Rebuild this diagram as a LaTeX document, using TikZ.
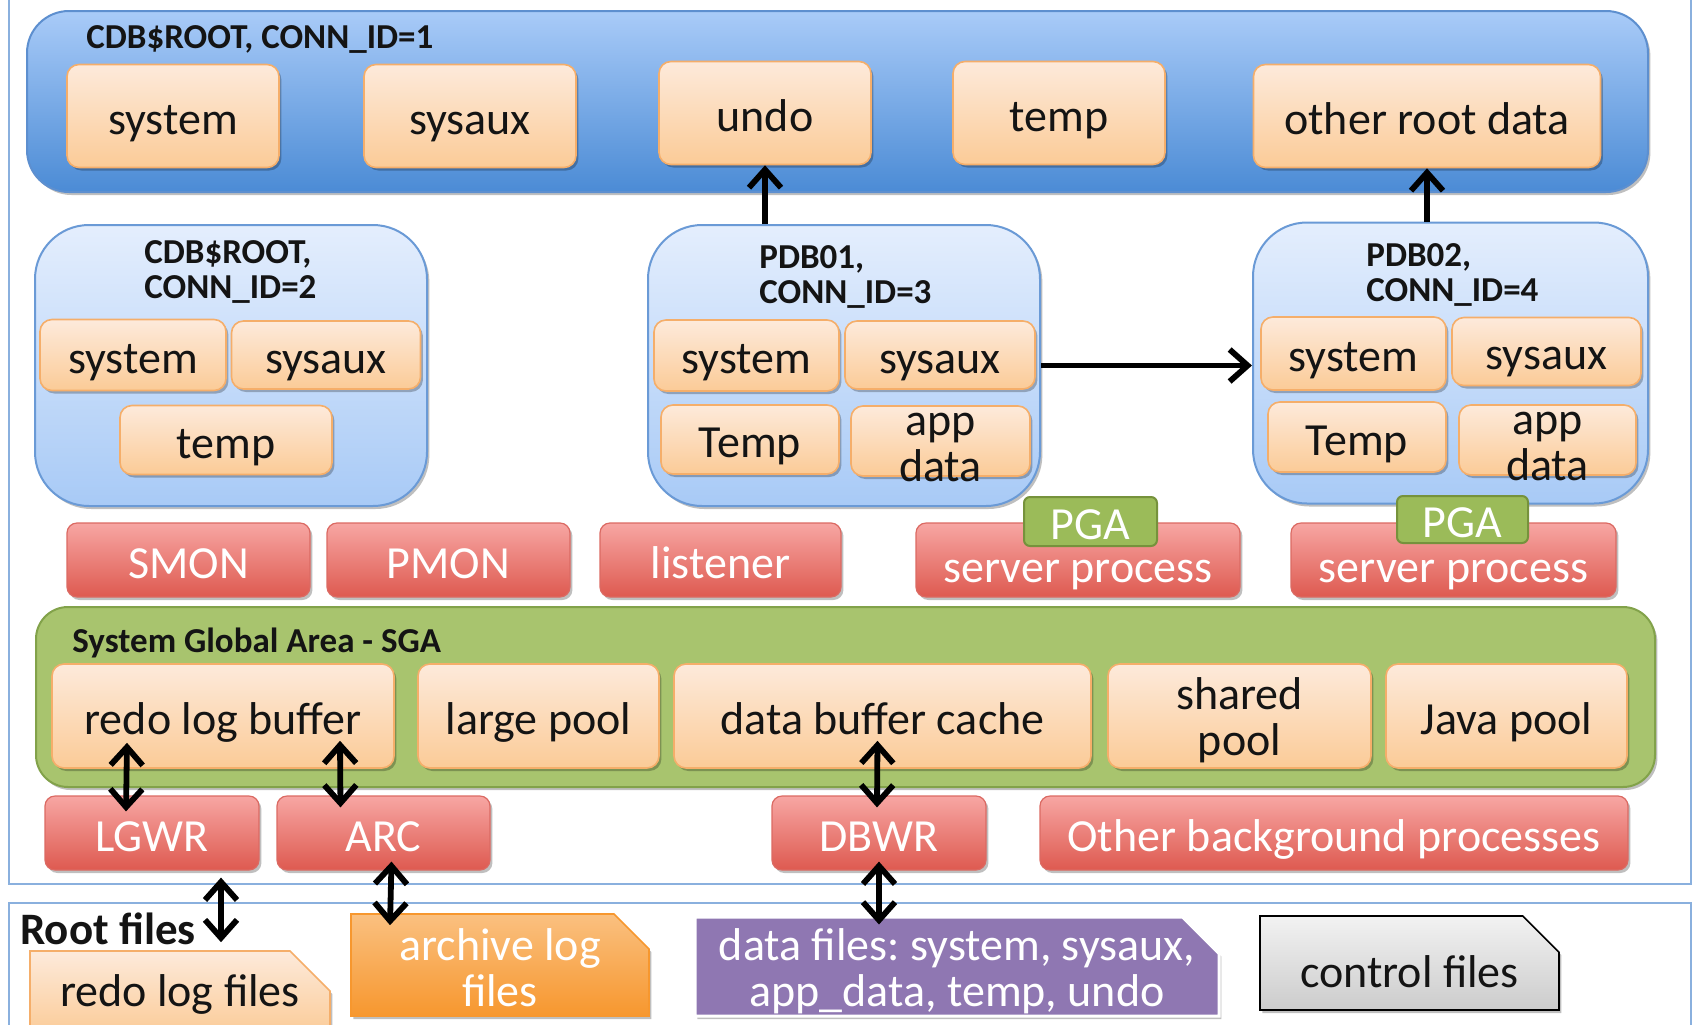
\documentclass[tikz,border=0pt]{standalone}
\usepackage{fontspec}
\setmainfont{Carlito}
\usetikzlibrary{arrows.meta,shapes.misc,shadows,calc}
\definecolor{txtc}{HTML}{141414}
\definecolor{orTop}{HTML}{FDEADB}
\definecolor{orBot}{HTML}{FBCB97}
\definecolor{orLine}{HTML}{F5AE6A}
\definecolor{rdTop}{HTML}{F7A6A3}
\definecolor{rdBot}{HTML}{DE5A50}
\definecolor{rdEdge}{HTML}{DB6A63}
\definecolor{rootTop}{HTML}{A9CBF8}
\definecolor{rootBot}{HTML}{4B8BD5}
\definecolor{rootLine}{HTML}{5D8FCF}
\definecolor{pdbTop}{HTML}{E4EEFD}
\definecolor{pdbBot}{HTML}{A8CAF6}
\definecolor{pdbLine}{HTML}{6A9AD6}
\definecolor{sgaFill}{HTML}{A8C46E}
\definecolor{sgaLine}{HTML}{82A24A}
\definecolor{pgaFill}{HTML}{9BBB59}
\definecolor{pgaLine}{HTML}{76923C}
\definecolor{panelLine}{HTML}{8AB0DE}
\definecolor{arcTop}{HTML}{FAC080}
\definecolor{arcBot}{HTML}{F7972E}
\definecolor{purp}{HTML}{8F77B2}
\definecolor{grTop}{HTML}{F2F2F2}
\definecolor{grBot}{HTML}{CCCCCC}
\newcommand\setfs[1]{\fontsize{#1}{#1}\selectfont}
\newcommand\lowerby[2]{\raisebox{-#1}[\height][\depth]{#2}}
\newcommand\twolines[4]{\raisebox{0pt}[#1][#2]{\begin{tabular}[t]{@{}c@{}}#3\\#4\end{tabular}}}
\frenchspacing
\begin{document}
\begin{tikzpicture}[x=0.5pt,y=-0.5pt,
  sh/.style={drop shadow={shadow xshift=1.2pt,shadow yshift=-1.5pt,opacity=0.25,fill=black}},
  wh/.style 2 args={minimum width=#1*0.5pt,minimum height=#2*0.5pt},
  oneline/.style={text height=18pt,text depth=0pt},
  ob/.style={rectangle,rounded corners=6pt,draw=orLine,line width=0.8pt,top color=orTop,bottom color=orBot,inner sep=0pt,font=\setfs{23},text=txtc,oneline,sh},
  rb/.style={rectangle,rounded corners=5pt,draw=rdEdge,line width=0.6pt,top color=rdTop,bottom color=rdBot,inner sep=0pt,font=\setfs{23},text=white,oneline,sh},
  cont/.style={rectangle,rounded corners=27pt,draw=pdbLine,line width=1pt,top color=pdbTop,bottom color=pdbBot,inner sep=0pt,sh},
  pga/.style={rectangle,rounded corners=3pt,draw=pgaLine,line width=1pt,fill=pgaFill,inner sep=0pt,font=\setfs{23},text=white,text height=17.5pt,text depth=0pt},
  ttl/.style={font=\bfseries\setfs{17.5},text=txtc,inner sep=0pt,align=left},
  txt/.style={font=\setfs{23},inner sep=0pt,align=center},
  file/.style={chamfered rectangle,chamfered rectangle corners=north east,chamfered rectangle sep=10pt,inner sep=0pt,font=\setfs{23},sh},
  panel/.style={draw=panelLine,line width=1pt},
  arr/.style={line width=2.9pt,-{Straight Barb[length=9pt,width=16pt]}},
  dbl/.style={line width=2.9pt,{Straight Barb[length=9pt,width=16pt]}-{Straight Barb[length=9pt,width=16pt]}}
]
\useasboundingbox (0,0) rectangle (1694,1024);
% panels
\draw[panel] (9,-20) rectangle (1691,884);
\draw[panel] (9,903) rectangle (1691,1044);
% root container
\node[rectangle,rounded corners=21pt,draw=rootLine,line width=1pt,top color=rootTop,bottom color=rootBot,wh={1621}{181},sh] (root) at (837.5,101.5) {};
\node[ttl,anchor=west] (rootttl) at (86,39) {CDB\$ROOT, CONN\_ID=1};
\node[ob,wh={212}{103}] (rsys) at (173,116) {system};
\node[ob,wh={212}{103}] (rsysaux) at (470,116) {sysaux};
\node[ob,wh={212}{103}] (undo) at (765,113) {undo};
\node[ob,wh={212}{103}] (rtemp) at (1059,113) {temp};
\node[ob,wh={347}{103}] (other) at (1427,116) {other root data};
% containers
\node[cont,wh={392}{281}] (cdb2) at (231,365.5) {};
\node[cont,wh={392}{281}] (pdb1) at (844,365.5) {};
\node[cont,wh={395}{281}] (pdb2) at (1450.5,363) {};
\node[ttl,anchor=west] (cdb2t) at (144,272) {CDB\$ROOT,\\CONN\_ID=2};
\node[ttl,anchor=west] (pdb1t) at (759,276.5) {PDB01,\\CONN\_ID=3};
\node[ttl,anchor=west] (pdb2t) at (1366,275) {PDB02,\\CONN\_ID=4};
\node[ob,wh={186}{71}] (c2sys) at (133,355) {system};
\node[ob,wh={189}{68}] (c2aux) at (326,355) {sysaux};
\node[ob,wh={212}{69}] (c2tmp) at (226,440) {temp};
\node[ob,wh={185}{71}] (p1sys) at (746.5,355.5) {system};
\node[ob,wh={190}{68}] (p1aux) at (940,355) {sysaux};
\node[ob,wh={178}{69}] (p1tmp) at (750,439.5) {Temp};
\node[ob,wh={179}{70}] (p1app) at (940.5,441) {};
\node[txt,text=txtc] (p1appt) at (940.5,447) {app\\data};
\node[ob,wh={185}{73}] (p2sys) at (1353.5,353.5) {system};
\node[ob,wh={189}{68}] (p2aux) at (1546.5,351.5) {sysaux};
\node[ob,wh={178}{70}] (p2tmp) at (1357,437) {Temp};
\node[ob,wh={177}{70}] (p2app) at (1547.5,440) {};
\node[txt,text=txtc] (p2appt) at (1547.5,446) {app\\data};
% arrows between containers
\draw[arr] (pdb1.north -| undo.south) -- (undo.south);
\draw[arr] (pdb2.north -| other.south) -- (other.south);
\draw[arr] (pdb1.east) -- (pdb1.east -| pdb2.west);
% processes
\node[rb,wh={243}{74}] (smon) at (188.5,560) {SMON};
\node[rb,wh={243}{74}] (pmon) at (448.5,560) {PMON};
\node[rb,wh={241}{74}] (lsnr) at (720.5,560) {listener};
\node[rb,wh={324}{74}] (srv1) at (1078,560) {};
\node[txt,text=white] (srv1t) at (1078,575) {server process};
\node[rb,wh={325}{74}] (srv2) at (1453.5,560) {};
\node[txt,text=white] (srv2t) at (1453.5,575) {server process};
\node[pga,wh={133}{49}] (pga1) at (1090.5,521.5) {PGA};
\node[pga,wh={131}{47}] (pga2) at (1462.5,519.5) {PGA};
% SGA
\node[rectangle,rounded corners=16pt,draw=sgaLine,line width=1pt,fill=sgaFill,wh={1619}{180},sh] (sga) at (845.5,697) {};
\node[ttl,anchor=west] (sgat) at (72,643) {System Global Area - SGA};
\node[ob,wh={342}{104}] (rlb) at (223,716) {redo log buffer};
\node[ob,wh={241}{104}] (lp) at (538.5,716) {large pool};
\node[ob,wh={417}{104}] (dbc) at (882.5,716) {data buffer cache};
\node[ob,wh={263}{104}] (sp) at (1239.5,716) {};
\node[txt,text=txtc] (spt) at (1239.5,720) {shared\\pool};
\node[ob,wh={241}{104}] (jp) at (1506.5,716) {Java pool};
% background processes
\node[rb,wh={214}{74}] (lgwr) at (152,833) {LGWR};
\node[rb,wh={213}{74}] (arc) at (383.5,833) {ARC};
\node[rb,wh={214}{74}] (dbwr) at (879,833) {DBWR};
\node[rb,wh={588}{74}] (obp) at (1334,833) {Other background processes};
% files
\node[ttl,font=\bfseries\setfs{22.5},anchor=west] (rootf) at (20,929) {Root files};
\node[file,draw=orLine,line width=0.8pt,top color=orTop,bottom color=orBot,wh={300}{84},text=txtc] (rlf) at (180,993) {\lowerby{0.5pt}{redo log files}};
\node[file,draw=arcBot,line width=0.8pt,top color=arcTop,bottom color=arcBot,wh={298}{102},text=white] (arch) at (500,965) {\twolines{5pt}{10pt}{archive log}{files}};
\node[file,draw=white,line width=1.5pt,fill=purp,wh={524}{99},text=white] (df) at (957,966.5) {\twolines{5pt}{11.5pt}{data files: system, sysaux,}{app\_data, temp, undo}};
\node[file,draw=black,line width=0.8pt,top color=grTop,bottom color=grBot,wh={299}{94},text=txtc] (cf) at (1409.5,963) {\lowerby{4.3pt}{control files}};
% double arrows
\draw[dbl] ($(rlb.south)+(-96,-26)$) -- ($(lgwr.north)+(-26,16)$);
\draw[dbl] ($(rlb.south)+(117,-28)$) -- ($(arc.north)+(-43,12)$);
\draw[dbl] ($(dbc.south)+(-5,-28)$) -- ($(dbwr.north)+(-2,12)$);
\draw[dbl] ($(lgwr.south)+(69,7)$) -- ($(rlf.north)+(41,-8)$);
\draw[dbl] ($(arc.south)+(8,-9)$) -- ($(arch.north)+(-110,12)$);
\draw[dbl] ($(dbwr.south)+(0,-9)$) -- ($(df.north)+(-78,9)$);
\end{tikzpicture}
\end{document}
